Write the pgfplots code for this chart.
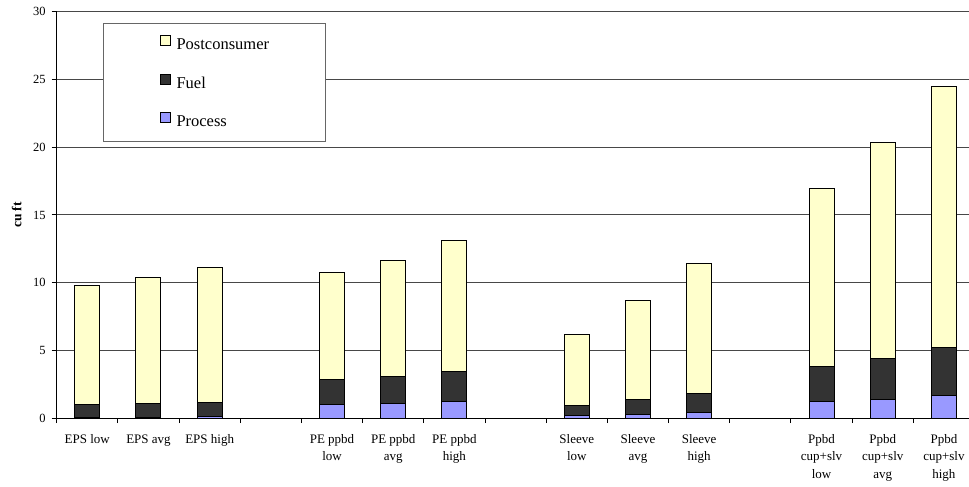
\documentclass[border=0pt]{standalone}
\usepackage{pgfplots}
\pgfplotsset{compat=1.18}
\usepackage{fontspec}
\setmainfont{Liberation Serif}
\definecolor{postc}{HTML}{FFFFCC}
\definecolor{fuelc}{HTML}{333333}
\definecolor{procc}{HTML}{9999FF}
\begin{document}
\begin{tikzpicture}
\begin{axis}[
  at={(0,0)}, anchor=south west,
  scale only axis,
  width=912.3bp, height=406.5bp,
  xmin=-0.5, xmax=14.41,
  ymin=0, ymax=30,
  ytick={0,5,...,30},
  xtick={0,...,14},
  xticklabels={EPS low,EPS avg,EPS high,,PE ppbd\\low,PE ppbd\\avg,PE ppbd\\high,,Sleeve\\low,Sleeve\\avg,Sleeve\\high,,Ppbd\\cup+slv\\low,Ppbd\\cup+slv\\avg,Ppbd\\cup+slv\\high},
  minor xtick={-0.5,0.5,...,13.5},
  axis x line*=bottom, axis y line*=left,
  axis line style={black, line width=1.2bp},
  tick align=outside,
  major tick length=5bp, minor tick length=5bp,
  major x tick style={draw=none},
  minor x tick style={black, line width=1bp},
  major y tick style={black, line width=1bp},
  ymajorgrids, grid style={black!72, line width=0.9bp},
  /pgf/number format/assume math mode=true,
  xticklabel style={font=\fontsize{13bp}{17.3bp}\selectfont, align=center, anchor=north, inner sep=0pt, yshift=-11bp},
  yticklabel style={font=\fontsize{12.5bp}{15bp}\selectfont, anchor=east, inner sep=0pt, xshift=-6bp},
  ylabel={cu ft},
  ylabel style={font=\fontsize{13.5bp}{15bp}\selectfont\bfseries, at={(axis description cs:-0.0438,0.5)}, anchor=center},
  ybar stacked, bar width=25bp,
  every axis plot/.append style={draw=black, line width=1bp},
  reverse legend,
  legend cell align=left,
  legend image code/.code={\draw[#1, line width=1bp] (0bp,0bp) rectangle (10.7bp,10bp);},
  legend style={at={(axis description cs:0.05075,0.9715)}, anchor=north west,
    draw=black!60, line width=1bp, fill=white,
    inner xsep=56bp, inner ysep=11.2bp,
    /tikz/row sep=20.15bp, /tikz/column sep=5.3bp,
    nodes={inner sep=0pt, text height=12bp, text depth=4bp, font=\fontsize{16.5bp}{18bp}\selectfont}},
]
\addplot[fill=procc] coordinates {(0,0.08) (1,0.08) (2,0.1) (4,0.98) (5,1.08) (6,1.25) (8,0.2) (9,0.3) (10,0.41) (12,1.23) (13,1.35) (14,1.65)};
\addlegendentry{Process}
\addplot[fill=fuelc] coordinates {(0,0.95) (1,1.02) (2,1.08) (4,1.85) (5,1.99) (6,2.19) (8,0.76) (9,1.05) (10,1.38) (12,2.57) (13,3.03) (14,3.55)};
\addlegendentry{Fuel}
\addplot[fill=postc] coordinates {(0,8.73) (1,9.32) (2,9.93) (4,7.91) (5,8.55) (6,9.64) (8,5.24) (9,7.37) (10,9.59) (12,13.14) (13,15.95) (14,19.27)};
\addlegendentry{Postconsumer}
\end{axis}
\pgfresetboundingbox
\path (-56.7bp,-68.8bp) rectangle (912.3bp,418.2bp);
\end{tikzpicture}
\end{document}
